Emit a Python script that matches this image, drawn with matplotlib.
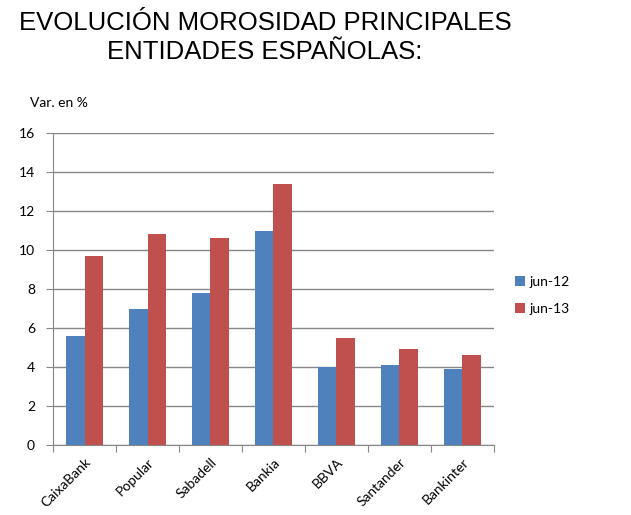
import matplotlib
matplotlib.use("Agg")
import matplotlib.pyplot as plt
import numpy as np

categories = ["CaixaBank", "Popular", "Sabadell", "Bankia", "BBVA", "Santander", "Bankinter"]
jun12 = [5.6, 7.0, 7.8, 11.0, 4.0, 4.1, 3.9]
jun13 = [9.7, 10.8, 10.6, 13.4, 5.5, 4.9, 4.6]
series_labels = ["jun-12", "jun-13"]
yticks = [0, 2, 4, 6, 8, 10, 12, 14, 16]

fig = plt.figure(figsize=(6.31, 5.15), dpi=100)
ax = fig.add_axes([53/631, 1-445/515, (494-53)/631, (445-133)/515])

x = np.arange(len(categories))
w = 0.29
ax.bar(x - w/2, jun12, w, color="#4F81BD", label=series_labels[0], zorder=3)
ax.bar(x + w/2, jun13, w, color="#C0504D", label=series_labels[1], zorder=3)

ax.set_xlim(-0.5, len(categories) - 0.5)
ax.set_ylim(0, 16)
ax.set_yticks(yticks)
ax.yaxis.grid(True, color="#868686", linewidth=1, zorder=0)
for s in ["top", "right"]:
    ax.spines[s].set_visible(False)
for s in ["left", "bottom"]:
    ax.spines[s].set_color("#868686")

ax.set_xticks(np.arange(-0.5, len(categories), 1))
ax.set_xticklabels([])
ax.set_xticks(x, minor=True)
ax.set_xticklabels(categories, minor=True, rotation=45, ha="right", rotation_mode="anchor",
                   fontsize=10, family="Lato")
ax.tick_params(axis="x", which="minor", length=0, pad=8)
ax.tick_params(axis="x", which="major", length=5, color="#868686", direction="out")
ax.tick_params(axis="y", length=5, color="#868686", labelsize=10, pad=8)
for lab in ax.get_yticklabels():
    lab.set_family("Lato")

fig.text(265/631, 1-11/515, "EVOLUCIÓN MOROSIDAD PRINCIPALES\nENTIDADES ESPAÑOLAS:",
         ha="center", va="top", fontsize=18.5, family="Liberation Sans", linespacing=1.25)
fig.text(30/631, 1-103/515, "Var. en %", ha="left", va="center", fontsize=10, family="Lato")

ax.legend(loc="center left", bbox_to_anchor=(1.02, 0.48), frameon=False,
          prop={"family": "Lato", "size": 10}, handlelength=0.7, handleheight=0.7,
          handletextpad=0.3, labelspacing=1.1)

fig.savefig("out.png", dpi=100)
